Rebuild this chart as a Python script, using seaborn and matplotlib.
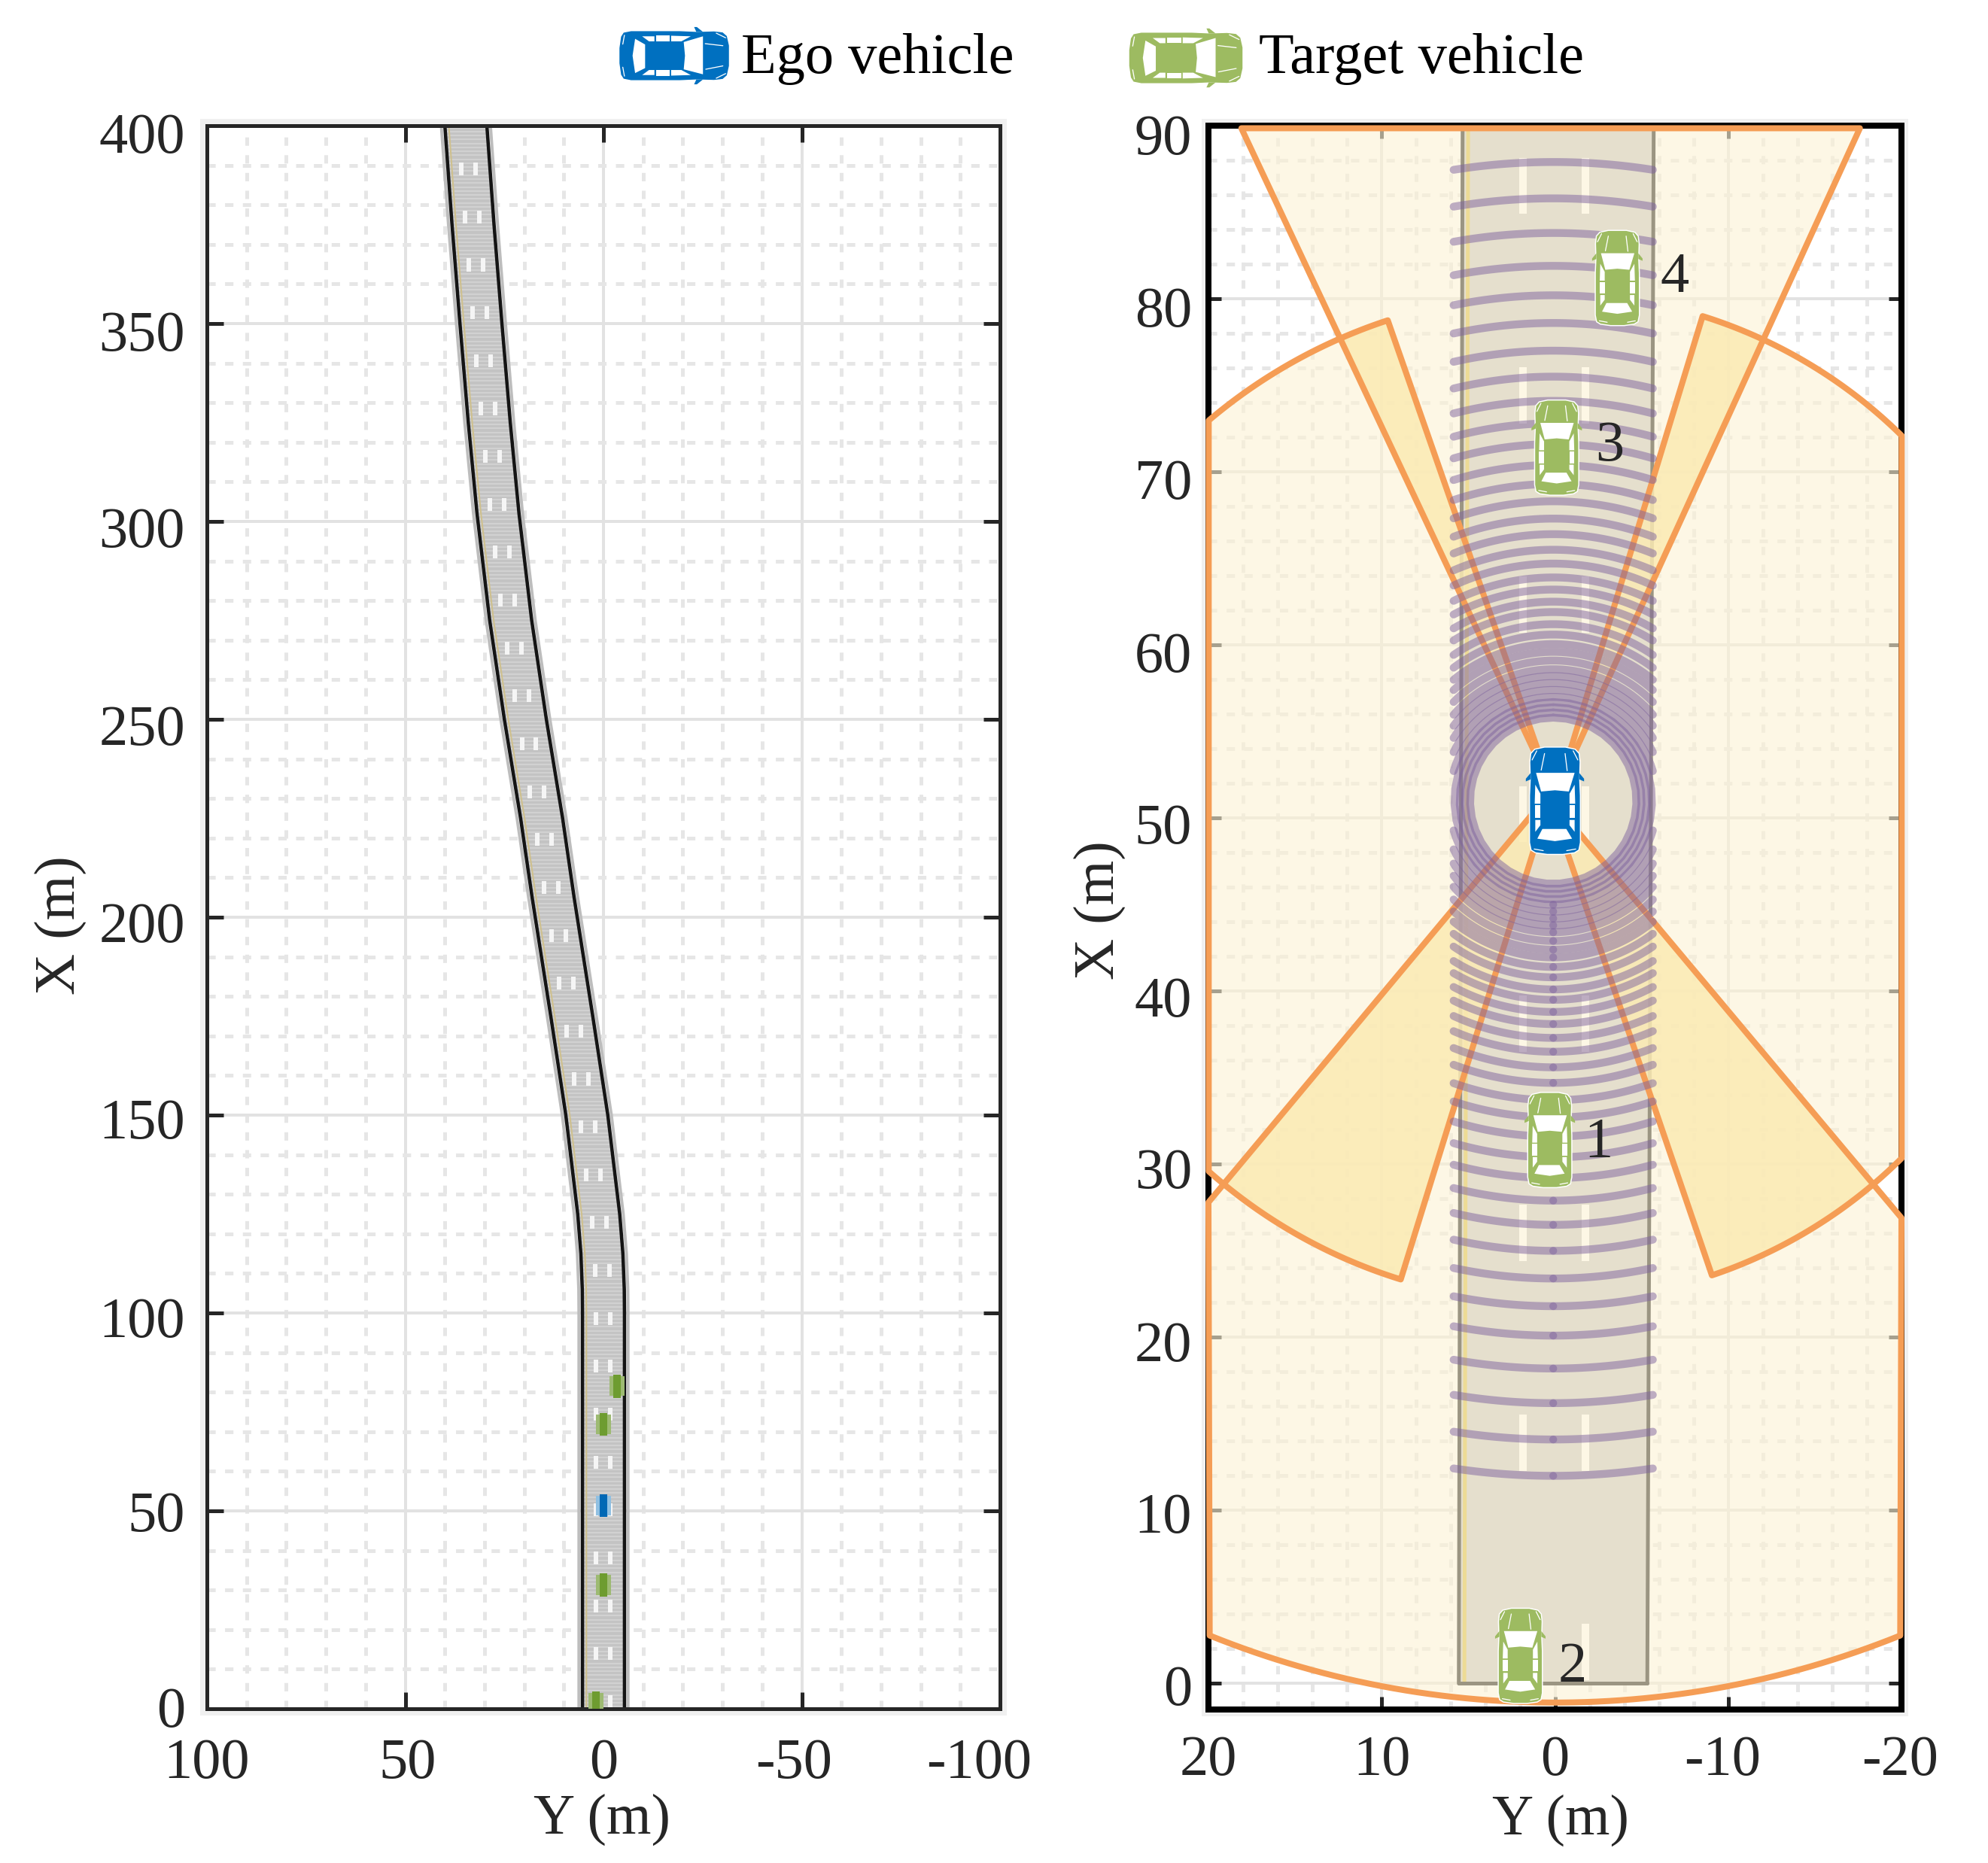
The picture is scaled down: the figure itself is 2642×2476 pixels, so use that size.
import numpy as np
import pandas as pd
import matplotlib
matplotlib.use('Agg')
import matplotlib.pyplot as plt
from matplotlib.patches import Rectangle
from matplotlib.transforms import ScaledTranslation
import seaborn as sns

W, H = 2642, 2476
DPI = 100
PX = 72 / DPI  # one pixel in points

# road centre line for the left panel
road_x = [0, 100, 106, 115, 125, 135, 150, 175, 205, 225, 250, 275, 302, 325, 350, 375, 400]
road_y = [0, 0, 0.05, 0.4, 1.2, 2.4, 4.2, 8.0, 12.7, 15.6, 19.7, 23.4, 26.6, 28.8, 30.9, 32.9, 34.7]
road_half_width = 5.3

# lane dashes, start of each dash along the road
dash_starts = [0.2, 12.3, 24.4, 36.5, 48.6, 60.7, 72.8, 84.9, 97, 109.1, 121.2, 133.3, 145.4,
               157.5, 169.6, 181.7, 193.8, 205.9, 218, 230.1, 242.2, 254.3, 266.4, 278.5,
               290.6, 302.7, 314.8, 326.9, 339, 351.1, 363.2, 375.3, 387.4]
dash_length = 3.25

# vehicles (Y, X)
ego_y, ego_x = 0.0, 51.0
target_y = [0.3, 2.0, -0.1, -3.6]
target_x = [31.4, 1.6, 71.4, 81.2]
target_ids = ['1', '2', '3', '4']
target_label_y = [-2.5, -1.0, -3.15, -6.9]
target_label_x = [31.2, 0.9, 71.45, 81.2]

# left panel car positions
small_target_y = [0, 1.9, 0, -3.4]
small_target_x = [31.3, 1.5, 71.9, 81.5]
small_ego_y, small_ego_x = 0.0, 51.3

# ranges of the scanning rings around the ego vehicle
radar_ranges = [4.8, 5.1, 5.4, 5.7, 6.0, 6.4, 6.8, 7.2, 7.6, 8.1, 8.6, 9.05, 9.6, 10.2, 10.9, 11.5,
                12.2, 12.9, 13.7, 14.5, 15.4, 16.3, 17.3, 18.3, 19.4, 20.6, 21.8, 23.1, 24.5,
                26.0, 27.6, 29.2, 30.9, 32.8, 34.8, 36.9, 39.0]
radar_center = (0.1, 51.0)
radar_half_chord = 5.75

# tick label nudges in pixels, the reference places them a little off the ticks
left_x_shift = [0, 3, 0, -10, -28]
right_x_shift = [0, 0, 0, -8, -2]
left_y_shift = [-3, 0, 5, 5, 7, 8, 8, 10, 10]
right_y_shift = [2, 3, 5, 5, 7, 7, 9, 9, 10, 12]

GRID = '#e2e2e2'
GRID_MINOR = '#e6e6e6'
ORANGE = '#f59d55'
PALE = '#fdf3d4'
DEEP = '#fbe7a6'
PURPLE = '#7e639e'
BLUE = '#0070c0'
GREEN = '#9dbb61'
GREEN_DARK = '#6e9c30'
FONT_SIZE = 55

sns.set_style('white')
plt.rcParams['font.family'] = ['Liberation Serif']
plt.rcParams['lines.scale_dashes'] = False

fig = plt.figure(figsize=(W / DPI, H / DPI), dpi=DPI, facecolor='white')


def axes_rect(left, top, right, bottom):
    return [left / W, 1 - bottom / H, (right - left) / W, (bottom - top) / H]


def add_panel(left, top, right, bottom):
    # pale frame that sits around each panel
    fig.add_artist(Rectangle(((left - 9) / W, 1 - (bottom + 9) / H), (right - left + 18) / W,
                             (bottom - top + 18) / H, transform=fig.transFigure,
                             facecolor='#f0f0f0', edgecolor='none', zorder=-1))
    return fig.add_axes(axes_rect(left, top, right, bottom), facecolor='white')


# car outline, u across and v along the car, front at v = 1
CAR_BODY = [(-0.97, 0.72), (-0.93, 0.88), (-0.78, 0.96), (-0.4, 1.0), (0.4, 1.0), (0.78, 0.96),
            (0.93, 0.88), (0.97, 0.72), (0.95, 0.42), (0.98, 0.1), (0.98, -0.78), (0.92, -0.92),
            (0.75, -0.97), (0.3, -1.0), (-0.3, -1.0), (-0.75, -0.97), (-0.92, -0.92), (-0.98, -0.78),
            (-0.98, 0.1), (-0.95, 0.42)]
CAR_MIRRORS = [[(-0.93, 0.52), (-1.12, 0.41), (-1.12, 0.36), (-0.93, 0.40)],
               [(0.93, 0.52), (1.12, 0.41), (1.12, 0.36), (0.93, 0.40)]]
CAR_GLASS = [[(-0.757, 0.52), (0.728, 0.52), (0.534, 0.172), (0, 0.195), (-0.534, 0.172)],
             [(-0.437, -0.526), (0.485, -0.526), (0.68, -0.707), (0, -0.753), (-0.66, -0.707)],
             [(-0.757, 0.30), (-0.56, 0.13), (-0.56, -0.056), (-0.78, -0.056)],
             [(-0.78, -0.08), (-0.56, -0.08), (-0.56, -0.326), (-0.78, -0.326)],
             [(-0.757, -0.358), (-0.56, -0.358), (-0.56, -0.456), (-0.757, -0.58)],
             [(0.757, 0.30), (0.56, 0.13), (0.56, -0.056), (0.78, -0.056)],
             [(0.78, -0.08), (0.56, -0.08), (0.56, -0.326), (0.78, -0.326)],
             [(0.757, -0.358), (0.56, -0.358), (0.56, -0.456), (0.757, -0.58)]]
CAR_LINES = [[(-0.39, 0.88), (-0.47, 0.56)], [(0.40, 0.88), (0.53, 0.57)],
             [(-0.88, 0.76), (-0.7, 0.93)], [(0.88, 0.76), (0.7, 0.93)],
             [(-0.8, -0.9), (-0.45, -0.93)], [(0.8, -0.9), (0.45, -0.93)]]


def draw_car(ax, cx, cy, length, width, color, horizontal=False, zorder=6):
    def place(points):
        pts = np.array(points)
        if horizontal:
            return cx + pts[:, 1] * length / 2, cy + pts[:, 0] * width / 2
        return cx + pts[:, 0] * width / 2, cy + pts[:, 1] * length / 2

    x, y = place(CAR_BODY)
    ax.fill(x, y, facecolor=color, edgecolor='white', linewidth=1.5 * PX, zorder=zorder)
    for part in CAR_MIRRORS:
        x, y = place(part)
        ax.fill(x, y, facecolor=color, edgecolor='none', zorder=zorder)
    for part in CAR_GLASS:
        x, y = place(part)
        ax.fill(x, y, facecolor='white', edgecolor='none', zorder=zorder + 0.1)
    for part in CAR_LINES:
        x, y = place(part)
        ax.plot(x, y, color='white', lw=1.3 * PX, zorder=zorder + 0.1)


def draw_small_car(ax, y, x, pale, solid):
    # at this scale the car is only a solid bar with a washed out band on each side
    ax.bar(y, 5.0, bottom=x - 2.5, width=3.8, color=pale, linewidth=0, zorder=3)
    ax.bar(y, 5.8, bottom=x - 2.9, width=1.9, color=solid, linewidth=0, zorder=3.1)


def style_axes(ax, xticks, xlabels, xminor, yticks, yminor, xlim, ylim, spine_px, spine_color,
               tick_px, pad_x, pad_y):
    ax.set_xlim(*xlim)
    ax.set_ylim(*ylim)
    ax.set_xticks(xticks)
    ax.set_xticklabels(xlabels)
    ax.set_yticks(yticks)
    ax.set_xticks(xminor, minor=True)
    ax.set_yticks(yminor, minor=True)
    ax.set_axisbelow(True)
    ax.grid(True, which='major', color=GRID, linewidth=4 * PX, linestyle='-')
    ax.grid(True, which='minor', color=GRID_MINOR, linewidth=5 * PX, linestyle=(0, (8.0, 9.0)))
    ax.tick_params(which='major', direction='in', top=True, right=True, bottom=True, left=True,
                   length=tick_px * PX, width=5 * PX, color='#262626', labelsize=FONT_SIZE,
                   labelcolor='#262626')
    ax.tick_params(axis='x', which='major', pad=pad_x * PX)
    ax.tick_params(axis='y', which='major', pad=pad_y * PX)
    ax.tick_params(which='minor', length=0)
    for spine in ax.spines.values():
        spine.set_visible(True)
        spine.set_color(spine_color)
        spine.set_linewidth(spine_px * PX)


def nudge_labels(ax, x_shift, y_shift):
    for label, dx in zip(ax.get_xticklabels(), x_shift):
        label.set_transform(label.get_transform() + ScaledTranslation(dx / DPI, 0, fig.dpi_scale_trans))
    for label, dy in zip(ax.get_yticklabels(), y_shift):
        label.set_transform(label.get_transform() + ScaledTranslation(0, -dy / DPI, fig.dpi_scale_trans))


# ---------- left panel: the whole road ----------
axl = add_panel(275, 167, 1329, 2271)
rx = np.array(road_x, dtype=float)
ry = np.array(road_y, dtype=float)
axl.fill_betweenx(rx, ry + road_half_width, ry - road_half_width, color='#c3c3c3', linewidth=0, zorder=1)

# band texture of the road surface
stripes = np.arange(0.5, 400, 1.0)
stripe_y = np.interp(stripes, rx, ry)
axl.hlines(stripes, stripe_y + road_half_width, stripe_y - road_half_width, color='#d1d1d1',
           linewidth=2.2 * PX, zorder=1.1)

for sign, halo in [(1, 0.9), (-1, -0.9)]:
    sns.lineplot(x=ry + sign * road_half_width + halo, y=rx, sort=False, estimator=None, color='#bdbdbd',
                 linewidth=4 * PX, ax=axl, zorder=1.2, legend=False)
    sns.lineplot(x=ry + sign * road_half_width, y=rx, sort=False, estimator=None, color='#141414',
                 linewidth=4.5 * PX, ax=axl, zorder=1.3, legend=False)
sns.lineplot(x=ry + road_half_width - 1.0, y=rx, sort=False, estimator=None, color='#cfc08c',
             linewidth=2 * PX, ax=axl, zorder=1.3, legend=False)

dash_lo = np.array(dash_starts)
dash_y = np.interp(dash_lo + dash_length / 2, rx, ry)
for offset in (1.9, -1.7):
    axl.vlines(dash_y + offset, dash_lo, dash_lo + dash_length, color='#f5f5f5', linewidth=6 * PX, zorder=1.4)

for y, x in zip(small_target_y, small_target_x):
    draw_small_car(axl, y, x, '#9dba72', GREEN_DARK)
draw_small_car(axl, small_ego_y, small_ego_x, '#90c0e2', '#0068b5')

style_axes(axl, [100, 50, 0, -50, -100], ['100', '50', '0', '-50', '-100'], np.arange(-90, 100, 10),
           np.arange(0, 401, 50), np.arange(10, 400, 10), (100, -100), (0, 400), 5, '#262626', 22, 39, 29)
nudge_labels(axl, left_x_shift, left_y_shift)
axl.set_xlabel('Y (m)', fontsize=FONT_SIZE, color='#262626')
axl.set_ylabel('X (m)', fontsize=FONT_SIZE, color='#262626')
axl.xaxis.set_label_coords(0.498, -0.0537)
axl.yaxis.set_label_coords(-0.152, 0.495)

# ---------- right panel: zoom on the ego vehicle ----------
axr = add_panel(1606, 167, 2527, 2272)
lane_x = [0, 90]
lane_left = [5.55, 5.33]
lane_right = [-5.33, -5.7]
axr.fill_betweenx(lane_x, lane_left, lane_right, color='#c3c3c3', linewidth=0, zorder=1)
sns.lineplot(x=lane_left, y=lane_x, sort=False, estimator=None, color='#0a0a0a', linewidth=5 * PX,
             ax=axr, zorder=1.2, legend=False)
sns.lineplot(x=lane_right, y=lane_x, sort=False, estimator=None, color='#0a0a0a', linewidth=5 * PX,
             ax=axr, zorder=1.2, legend=False)
sns.lineplot(x=[lane_left[0] - 0.32, lane_left[1] - 0.32], y=lane_x, sort=False, estimator=None,
             color='#d6b838', linewidth=5 * PX, ax=axr, zorder=1.2, legend=False)
axr.plot([lane_left[0], lane_right[0]], [0, 0], color='#0a0a0a', lw=5 * PX, zorder=1.2)
visible = dash_lo[dash_lo < 90]
for offset in (1.85, -1.75):
    axr.vlines(np.full(len(visible), offset), visible, visible + dash_length, color='white',
               linewidth=10 * PX, zorder=1.3)


def arc(cx, cy, radius, a0, a1, n=60):
    # angle measured from +X towards +Y, in degrees
    t = np.radians(np.linspace(a0, a1, n))
    return np.column_stack((cx + radius * np.sin(t), cy + radius * np.cos(t)))


front = np.array([(0, 51.3), (18.1, 89.85), (-17.6, 89.85)])
side_left = np.vstack(([(0, 51.1)], arc(0, 49.4, 30.9, 18.2, 40.3), arc(0, 52.1, 30.1, 138.4, 162.8), [(0, 52.1)]))
side_right = np.vstack(([(0, 51.0)], arc(0, 51.8, 28.5, -17.4, -44.6), arc(0, 50.5, 28.4, -135.2, -161.4), [(0, 50.1)]))
rear = np.vstack(([(0, 51.8), (20, 27.8)], arc(0, 52.1, 53.2, 158, 202), [(-20, 26.9), (0, 50.8)]))
overlaps = [
    np.vstack(([(0, 51.1)], arc(0, 49.4, 30.9, 18.2, 23.6))),
    np.vstack(([(0, 51.0)], arc(0, 51.8, 28.5, -17.4, -25.0))),
    np.vstack(([(0, 51.8)], arc(0, 52.1, 30.1, 140.25, 162.8))),
    np.vstack(([(0, 50.8)], arc(0, 50.5, 28.4, -139.9, -161.4))),
]
for poly in (front, side_left, side_right, rear):
    axr.fill(poly[:, 0], poly[:, 1], facecolor=PALE, edgecolor='none', alpha=0.6, zorder=2)
# overlap wedges are a stronger yellow than two plain layers would give
for poly in overlaps:
    axr.fill(poly[:, 0], poly[:, 1], facecolor=DEEP, edgecolor='none', alpha=0.6, zorder=2.1)
for poly in (front, side_left, side_right, rear):
    closed = np.vstack((poly, poly[:1]))
    axr.plot(closed[:, 0], closed[:, 1], color=ORANGE, lw=8 * PX, solid_joinstyle='round',
             zorder=3, clip_on=False)

# scanning rings, cut to the road width
rows = []
arc_id = 0
for r in radar_ranges:
    if r <= radar_half_chord:
        spans = [(0, 360)]
    else:
        tm = np.degrees(np.arcsin(radar_half_chord / r))
        spans = [(180 - tm, 180), (180, 180 + tm)]
        if r < 38:
            spans.append((-tm, tm))
    for a0, a1 in spans:
        pts = arc(radar_center[0], radar_center[1], r, a0, a1, 40)
        rows.append(pd.DataFrame({'arc': arc_id, 'y': pts[:, 0], 'x': pts[:, 1]}))
        arc_id += 1
rings = pd.concat(rows, ignore_index=True)
sns.lineplot(data=rings, x='y', y='x', units='arc', estimator=None, sort=False, color=PURPLE,
             linewidth=7.5, alpha=0.5, solid_capstyle='round', zorder=3.5, ax=axr, legend=False)

for y, x in zip(target_y, target_x):
    draw_car(axr, y, x, 5.5, 2.6, GREEN)
draw_car(axr, ego_y, ego_x, 6.2, 3.0, BLUE)
for y, x, name in zip(target_label_y, target_label_x, target_ids):
    axr.text(y, x, name, fontsize=FONT_SIZE, color='#262626', ha='center', va='center', zorder=7)

style_axes(axr, [20, 10, 0, -10, -20], ['20', '10', '0', '-10', '-20'], np.arange(-18, 20, 2),
           np.arange(0, 91, 10), np.arange(2, 90, 2), (20, -20), (-1.5, 90), 8, 'black', 17, 34, 22)
nudge_labels(axr, right_x_shift, right_y_shift)
axr.set_xlabel('Y (m)', fontsize=FONT_SIZE, color='#262626')
axr.set_ylabel('X (m)', fontsize=FONT_SIZE, color='#262626')
axr.xaxis.set_label_coords(0.508, -0.0537)
axr.yaxis.set_label_coords(-0.119, 0.5045)

# ---------- legend above the panels, placed in pixels ----------
top = fig.add_axes([0, 0, 1, 1], zorder=10)
top.set_xlim(0, W)
top.set_ylim(H, 0)
top.axis('off')
draw_car(top, 896, 74, 147, 68, BLUE, horizontal=True)
draw_car(top, 1576, 77, 152, 70, GREEN, horizontal=True)
top.text(985, 97, 'Ego vehicle', fontsize=FONT_SIZE, color='black', ha='left', va='baseline')
top.text(1673, 97, 'Target vehicle', fontsize=FONT_SIZE, color='black', ha='left', va='baseline')

fig.savefig('out.png', dpi=DPI)
